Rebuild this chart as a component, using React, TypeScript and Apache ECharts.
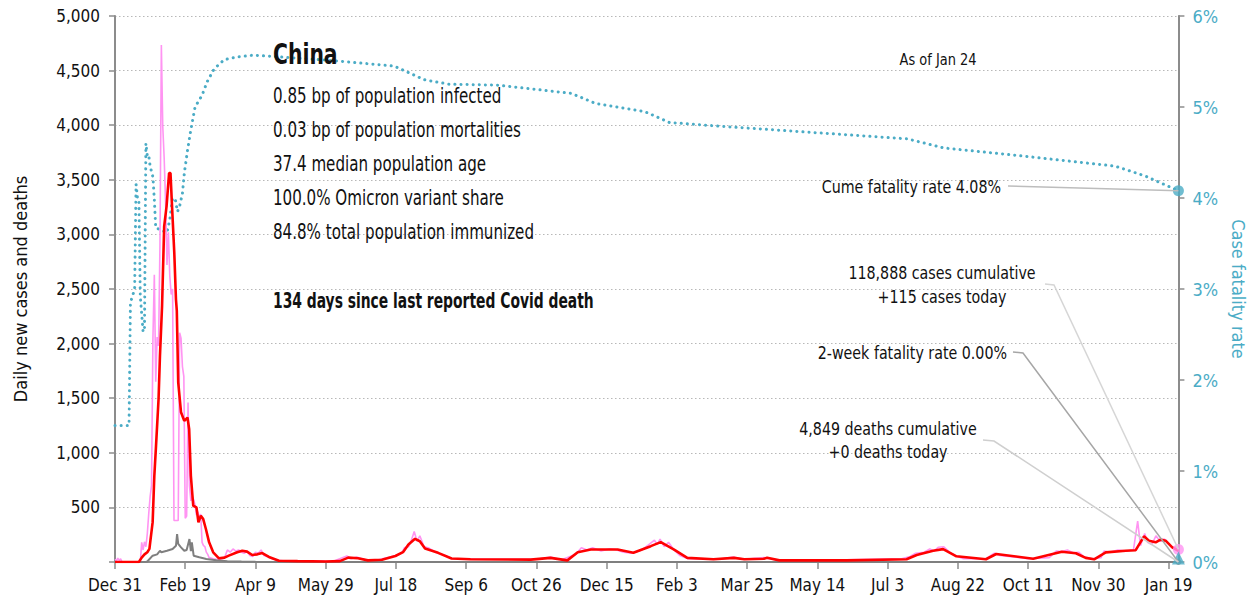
import React, { useEffect, useRef } from 'react';
import * as echarts from 'echarts';

// ---------- data (x = days since Dec 31, 2019) ----------
const tickDays = [0, 50, 100, 150, 200, 250, 300, 350, 400, 450, 500, 550, 600, 650, 700, 750];
const tickLabels = ['Dec 31', 'Feb 19', 'Apr 9', 'May 29', 'Jul 18', 'Sep 6', 'Oct 26', 'Dec 15', 'Feb 3', 'Mar 25', 'May 14', 'Jul 3', 'Aug 22', 'Oct 11', 'Nov 30', 'Jan 19'];
const lastDay = 757;

const casesDaily: [number, number][] = [
  [0, 25], [1, 10], [2, 35], [3, 15], [4, 30], [5, 0], [18, 0], [19, 180], [20, 110], [21, 185], [22, 140], [23, 260],
  [24, 440], [25, 600], [26, 700], [27, 2050], [28, 2630], [29, 1650], [30, 2060], [31, 1980], [32, 2900], [33, 4735],
  [34, 3990], [35, 3700], [36, 3300], [37, 2720], [38, 3020], [39, 2620], [40, 2450], [41, 2500], [42, 380], [45, 380],
  [46, 2100], [47, 2050], [48, 1790], [49, 1700], [50, 400], [51, 420], [52, 1460], [53, 700], [54, 560], [55, 600],
  [56, 570], [57, 520], [58, 430], [59, 460], [60, 400], [61, 440], [62, 180], [63, 150], [64, 140], [65, 90], [66, 70],
  [67, 40], [70, 30], [74, 20], [78, 40], [80, 110], [82, 90], [84, 120], [86, 100], [88, 110], [90, 90], [92, 80],
  [94, 100], [96, 60], [98, 50], [100, 90], [102, 80], [104, 110], [106, 60], [108, 50], [112, 30], [116, 15], [125, 5],
  [140, 10], [155, 5], [165, 55], [168, 30], [172, 45], [178, 20], [186, 15], [194, 40], [200, 60], [204, 80], [206, 130],
  [209, 140], [211, 200], [213, 280], [215, 190], [217, 240], [220, 140], [223, 130], [228, 90], [235, 60], [240, 30],
  [260, 25], [300, 25], [310, 45], [318, 20], [328, 70], [332, 130], [336, 110], [340, 130], [346, 100], [352, 120],
  [356, 115], [362, 90], [368, 80], [375, 110], [380, 160], [384, 200], [386, 160], [388, 210], [391, 140], [394, 180],
  [398, 110], [402, 60], [408, 30], [430, 25], [440, 45], [448, 25], [462, 40], [470, 20], [520, 20], [560, 30], [566, 50],
  [570, 80], [576, 90], [580, 120], [583, 100], [586, 135], [590, 140], [594, 90], [598, 60], [604, 30], [620, 30],
  [626, 80], [630, 60], [650, 30], [665, 40], [670, 100], [674, 95], [678, 110], [682, 85], [686, 90], [690, 45],
  [696, 30], [702, 40], [704, 100], [708, 90], [714, 110], [720, 100], [725, 110], [728, 375], [730, 150], [733, 260],
  [735, 180], [738, 160], [741, 240], [744, 190], [747, 210], [750, 170], [753, 130], [755, 140], [757, 115],
];

const casesAvg: [number, number][] = [
  [0, 0], [17, 0], [19, 40], [21, 70], [23, 90], [24.5, 120], [26.8, 365], [28, 790], [29.2, 1063], [31, 1490],
  [32, 1886], [33.5, 2343], [35, 3074], [36.7, 3257], [38.5, 3562], [39.5, 3562], [40.6, 3257], [42.2, 2833],
  [43.4, 2404], [44, 2300], [45, 1645], [47, 1371], [49.3, 1292], [51.6, 1323], [52.8, 1216], [54, 789], [55.7, 515],
  [58, 500], [59.4, 363], [61.1, 423], [62.8, 393], [64.7, 302], [67, 180], [69.9, 89], [74, 34], [78, 40], [81, 58],
  [87, 89], [90.6, 103], [94, 95], [97.7, 64], [101.3, 70], [104.8, 82], [109.6, 46], [116.7, 12], [130, 8], [150, 5],
  [160, 8], [166, 40], [173, 35], [180, 15], [190, 20], [199.6, 55], [205, 90], [208.9, 160], [213.6, 212], [217, 190],
  [220.7, 123], [230, 84], [239.6, 32], [253, 25], [296, 22], [310, 38], [322, 15], [329.4, 90], [338.7, 114],
  [357.8, 114], [369, 84], [381.4, 145], [388.5, 182], [398, 114], [407.4, 38], [426, 25], [440.6, 38], [448, 25],
  [462, 30], [464.2, 38], [473, 15], [521, 15], [563.5, 25], [570.7, 64], [582.4, 103], [589.5, 118], [599, 52],
  [620, 25], [627.3, 73], [653.6, 30], [674, 94], [684, 80], [691, 38], [697, 25], [705.3, 88], [719.5, 103],
  [726.6, 108], [732.5, 235], [736, 195], [740.8, 180], [744.3, 205], [747.9, 195], [752.6, 134], [757, 103],
];

const deathsDaily: [number, number][] = [
  [0, 0], [22, 0], [23, 5], [26.8, 58], [30, 70], [32, 103], [33, 89], [37, 103], [41, 119], [43.4, 149], [44.2, 256],
  [45, 165], [47, 134], [49.3, 103], [51, 110], [53, 210], [54, 100], [54.7, 180], [56, 58], [60, 43], [65, 27],
  [72, 15], [80, 8], [90, 5], [100, 3], [120, 1], [150, 0], [757, 0],
];

// case fatality rate, percent (right axis)
const fatalityRate: [number, number][] = [
  [0, 1.5], [10, 1.5], [11, 2.85], [14, 3.0], [15, 4.15], [16, 4.0], [17, 3.98], [18, 2.92], [20, 2.53], [21, 2.55],
  [22, 4.6], [23, 4.46], [24, 4.47], [25, 4.35], [26, 4.29], [27, 4.23], [28, 3.98], [29, 3.67], [31, 3.66], [37, 3.62],
  [39, 3.76], [41, 4.0], [43, 3.98], [44.5, 3.85], [46, 3.91], [48, 4.05], [49.4, 4.28], [51.5, 4.51], [54, 4.75],
  [57, 5.0], [62, 5.13], [65.7, 5.28], [70.6, 5.42], [77.8, 5.52], [87, 5.55], [98.6, 5.57], [155, 5.51], [198.7, 5.45],
  [207.4, 5.39], [220, 5.3], [238, 5.25], [272.7, 5.24], [324.8, 5.15], [342, 5.04], [377, 4.95], [394.7, 4.83],
  [429.4, 4.79], [516, 4.7], [564, 4.65], [590, 4.55], [647, 4.46], [712, 4.35], [733.7, 4.24], [757, 4.08],
];

const lastCases = 115;
const lastDeaths = 0;
const cumeRate = 4.08;
const twoWeekRate = 0;

const title = 'China';
const statLines = [
  '0.85 bp of population infected',
  '0.03 bp of population mortalities',
  '37.4 median population age',
  '100.0% Omicron variant share',
  '84.8% total population immunized',
];
const boldLine = '134 days since last reported Covid death';
const asOf = 'As of Jan 24';

// ---------- styles ----------
const FONT = "'DejaVu Sans Condensed', 'Liberation Sans Narrow', sans-serif";
const TEAL = '#4bacc6';
const PINK = '#ff94f2';
const RED = '#ff0000';
const GRAY = '#7f7f7f';
const AXIS = '#8c8c8c';

export default function App() {
  const ref = useRef<HTMLDivElement>(null);

  useEffect(() => {
    if (!ref.current) return;
    const chart = echarts.init(ref.current, undefined, { renderer: 'svg' });

    chart.setOption({
      animation: false,
      grid: { left: 115, right: 73, top: 16, bottom: 42 },
      xAxis: {
        type: 'value',
        min: 0,
        max: lastDay,
        interval: 50,
        axisLine: { lineStyle: { color: AXIS, width: 2 } },
        axisTick: { customValues: tickDays, length: 7, lineStyle: { color: AXIS, width: 1.5 } },
        axisLabel: {
          customValues: tickDays,
          formatter: (v: number) => {
            const i = tickDays.indexOf(Math.round(v));
            return i >= 0 ? tickLabels[i] : '';
          },
          color: '#111',
          fontFamily: FONT,
          fontSize: 17,
          margin: 14,
        },
        splitLine: { show: false },
      },
      yAxis: [
        {
          type: 'value',
          min: 0,
          max: 5000,
          interval: 500,
          name: 'Daily new cases and deaths',
          nameLocation: 'middle',
          nameGap: 86,
          nameRotate: 90,
          nameTextStyle: { color: '#111', fontFamily: FONT, fontSize: 18 },
          axisLine: { show: true, lineStyle: { color: AXIS, width: 2 } },
          axisTick: { show: true, length: 6, lineStyle: { color: AXIS, width: 1.5 } },
          axisLabel: {
            formatter: (v: number) => (v === 0 ? '' : v.toLocaleString('en-US')),
            color: '#111',
            fontFamily: FONT,
            fontSize: 17,
            margin: 15,
          },
          splitLine: { show: true, lineStyle: { color: '#b8b8b8', width: 1.2, type: [1.5, 2.5] } },
        },
        {
          type: 'value',
          min: 0,
          max: 6,
          interval: 1,
          position: 'right',
          name: 'Case fatality rate',
          nameLocation: 'middle',
          nameGap: 47,
          nameRotate: -90,
          nameTextStyle: { color: TEAL, fontFamily: FONT, fontSize: 18 },
          axisLine: { show: true, lineStyle: { color: AXIS, width: 2 } },
          axisTick: { show: true, length: 6, lineStyle: { color: AXIS, width: 1.5 } },
          axisLabel: {
            formatter: (v: number) => `${v}%`,
            color: TEAL,
            fontFamily: FONT,
            fontSize: 18,
            margin: 14,
          },
          splitLine: { show: false },
        },
      ],
      series: [
        {
          type: 'line',
          name: 'Case fatality rate',
          yAxisIndex: 1,
          data: fatalityRate,
          showSymbol: false,
          lineStyle: { color: TEAL, width: 3, type: [0.1, 6], cap: 'round' },
          z: 1,
        },
        {
          type: 'line',
          name: 'Daily cases',
          data: casesDaily,
          showSymbol: false,
          lineStyle: { color: PINK, width: 1.6 },
          z: 2,
        },
        {
          type: 'line',
          name: 'Daily deaths',
          data: deathsDaily,
          showSymbol: false,
          lineStyle: { color: GRAY, width: 2 },
          z: 3,
        },
        {
          type: 'line',
          name: 'Cases 7-day average',
          data: casesAvg,
          showSymbol: false,
          lineStyle: { color: RED, width: 2.6 },
          z: 4,
        },
        {
          type: 'scatter',
          name: 'Cases today',
          data: [[lastDay, lastCases]],
          symbol: 'circle',
          symbolSize: 11,
          itemStyle: { color: PINK },
          z: 5,
        },
        {
          type: 'scatter',
          name: 'Deaths today',
          data: [[lastDay, lastDeaths]],
          symbol: 'circle',
          symbolSize: 6,
          itemStyle: { color: GRAY },
          z: 5,
        },
        {
          type: 'scatter',
          name: '2-week fatality',
          yAxisIndex: 1,
          data: [[lastDay, twoWeekRate]],
          symbol: 'triangle',
          symbolSize: 13,
          symbolOffset: [0, -4],
          itemStyle: { color: TEAL },
          z: 6,
        },
        {
          type: 'scatter',
          name: 'Cume fatality',
          yAxisIndex: 1,
          data: [[lastDay, cumeRate]],
          symbol: 'circle',
          symbolSize: 11,
          itemStyle: { color: TEAL },
          z: 6,
        },
      ],
    });

    const pL = (d: number, v: number) => chart.convertToPixel({ xAxisIndex: 0, yAxisIndex: 0 }, [d, v]) as number[];
    const pR = (d: number, v: number) => chart.convertToPixel({ xAxisIndex: 0, yAxisIndex: 1 }, [d, v]) as number[];
    const casePt = pL(lastDay, lastCases);
    const deathPt = pL(lastDay, lastDeaths);
    const cumePt = pR(lastDay, cumeRate);
    const twoWkPt = pR(lastDay, twoWeekRate);

    const txt = (text: string, x: number, y: number, opts: any = {}) => ({
      type: 'text',
      x,
      y,
      scaleX: opts.scaleX || 1,
      z: 10,
      style: {
        text,
        fill: opts.fill || '#111',
        fontFamily: FONT,
        fontSize: opts.fontSize || 18,
        fontWeight: opts.fontWeight || 'normal',
        align: opts.align || 'left',
        verticalAlign: 'middle',
      },
    });
    const leader = (pts: number[][], color: string) => ({
      type: 'polyline',
      z: 9,
      shape: { points: pts },
      style: { stroke: color, lineWidth: 1.5, fill: null },
    });

    const A = 0.88;
    const graphics: any[] = [
      txt(title, 273, 54, { fontSize: 29, fontWeight: 'bold', scaleX: 0.78 }),
      ...statLines.map((s, i) => txt(s, 273, 95 + i * 34, { fontSize: 21, scaleX: 0.8 })),
      txt(boldLine, 273, 301, { fontSize: 21, fontWeight: 'bold', scaleX: 0.735 }),
      txt(asOf, 938, 60, { fontSize: 16, align: 'center', scaleX: 0.9 }),
      txt('Cume fatality rate 4.08%', 1001, 187, { align: 'right', scaleX: A }),
      txt('118,888 cases cumulative', 942, 273, { align: 'center', scaleX: A }),
      txt('+115 cases today', 942, 297, { align: 'center', scaleX: A }),
      txt('2-week fatality rate 0.00%', 1007, 353, { align: 'right', scaleX: A }),
      txt('4,849 deaths cumulative', 888, 429, { align: 'center', scaleX: A }),
      txt('+0 deaths today', 888, 452, { align: 'center', scaleX: A }),
      leader([[1008, 186], cumePt], '#bdbdbd'),
      leader([[1045, 284], [1054, 285], casePt], '#d6d6d6'),
      leader([[1013, 352], [1023, 353], twoWkPt], '#a6a6a6'),
      leader([[983, 440], [994, 441], deathPt], '#cfcfcf'),
    ];
    chart.setOption({ graphic: graphics });

    return () => chart.dispose();
  }, []);

  return (
    <div
      ref={ref}
      style={{ position: 'absolute', left: 0, top: 0, width: 1255, height: 604, background: '#fff' }}
    />
  );
}
